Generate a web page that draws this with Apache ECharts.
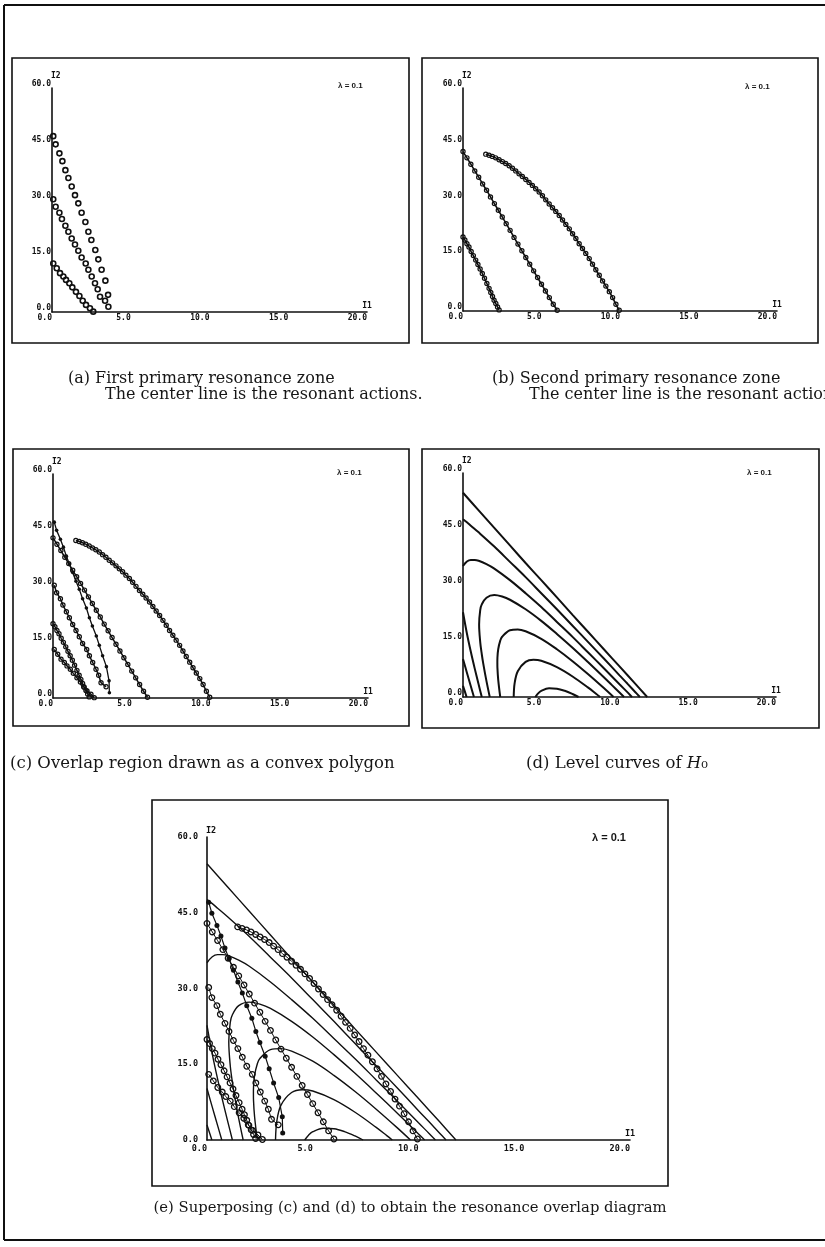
<!DOCTYPE html>
<html>
<head>
<meta charset="utf-8">
<script src="https://cdn.jsdelivr.net/npm/echarts@6.0.0/dist/echarts.min.js"></script>
<style>
  html, body { margin: 0; padding: 0; background: #fff; }
  #chart { width: 825px; height: 1247px; }
</style>
</head>
<body>
<div id="chart"></div>
<script>
// tick labels and axis names
var xTickLabels = ['0.0', '5.0', '10.0', '15.0', '20.0'];
var yTickLabels = ['0.0', '15.0', '30.0', '45.0', '60.0'];
var xName = 'I1';
var yName = 'I2';
var lambdaText = 'λ = 0.1';

// (a) first primary resonance zone, [I1, I2]
var zoneAUpper = [[0.08,47.1],[0.23,44.9],[0.47,42.5],[0.66,40.4],[0.85,38.0],[1.04,35.9],[1.25,33.6],[1.46,31.3],[1.67,29.1],[1.88,26.6],[2.12,24.1],[2.31,21.5],[2.50,19.3],[2.75,16.6],[2.94,14.1],[3.15,11.3],[3.39,8.4],[3.56,4.6],[3.58,1.4]];
var zoneACenter = [[0.08,30.2],[0.23,28.2],[0.47,26.6],[0.63,24.9],[0.85,23.1],[1.04,21.5],[1.25,19.7],[1.46,18.1],[1.67,16.4],[1.88,14.6],[2.14,13.0],[2.31,11.3],[2.52,9.5],[2.73,7.7],[2.90,6.1],[3.05,4.1],[3.37,3.0]];
var zoneALower = [[0.08,13.0],[0.30,11.7],[0.51,10.4],[0.72,9.5],[0.89,8.6],[1.10,7.7],[1.29,6.6],[1.52,5.4],[1.74,4.3],[1.95,3.0],[2.16,1.9],[2.41,1.0],[2.62,0.1]];

// (b) second primary resonance zone
var zoneBLower = [[0,19.9],[0.12,19.1],[0.25,18.1],[0.38,17.2],[0.52,16.0],[0.66,14.9],[0.81,13.7],[0.95,12.5],[1.09,11.3],[1.23,10.1],[1.37,8.8],[1.52,7.4],[1.66,6.1],[1.77,5.0],[1.88,3.9],[1.98,2.9],[2.09,2.0],[2.2,1.1],[2.3,0.3]];
var zoneBCenter = [[0,42.9],[0.25,41.2],[0.5,39.5],[0.75,37.7],[1.0,36.0],[1.25,34.2],[1.5,32.5],[1.75,30.7],[2.0,28.9],[2.25,27.1],[2.5,25.3],[2.75,23.5],[3.0,21.7],[3.25,19.8],[3.5,18.0],[3.75,16.2],[4.0,14.4],[4.25,12.6],[4.5,10.8],[4.75,9.0],[5.0,7.2],[5.25,5.4],[5.5,3.6],[5.75,1.8],[6.0,0.2]];
var zoneBUpper = [[1.45,42.2],[1.66,41.9],[1.87,41.6],[2.08,41.2],[2.30,40.7],[2.51,40.2],[2.72,39.7],[2.94,39.1],[3.15,38.4],[3.36,37.7],[3.57,36.9],[3.78,36.2],[4.0,35.4],[4.21,34.6],[4.42,33.8],[4.63,32.9],[4.85,32.0],[5.06,31.0],[5.27,29.9],[5.49,28.8],[5.70,27.8],[5.91,26.8],[6.13,25.7],[6.34,24.5],[6.55,23.3],[6.77,22.1],[6.98,20.8],[7.19,19.5],[7.40,18.1],[7.61,16.8],[7.82,15.5],[8.04,14.1],[8.25,12.6],[8.46,11.1],[8.68,9.6],[8.89,8.1],[9.10,6.7],[9.32,5.2],[9.53,3.6],[9.74,1.8],[9.95,0.2]];

// (d) level curves of H0
var h0Level1 = [[0,54.7],[1,50.0],[2,45.3],[3,40.6],[4,35.9],[5,31.3],[6,26.7],[7,22.0],[8,17.4],[9,12.8],[10,8.2],[11,3.6],[11.77,0]];
var h0Level1Low = [[0,3.0],[0.1,1.7],[0.23,0]];
var h0Level2 = [[0,47.6],[0.25,46.8],[0.5,45.9],[1,44.1],[2,40.3],[3,36.2],[4,32.1],[5,27.8],[6,23.5],[7,19.1],[8,14.7],[9,10.3],[10,5.8],[10.5,3.6],[11,1.35],[11.3,0]];
var h0Level2Low = [[0,10.2],[0.25,6.5],[0.5,2.9],[0.7,0]];
var h0Level3 = [[0,35.1],[0.25,36.3],[0.5,36.7],[0.75,36.7],[1,36.5],[1.5,35.6],[2,34.4],[3,31.3],[4,27.8],[5,24.1],[6,20.1],[7,16.1],[8,11.9],[9,7.7],[10,3.4],[10.5,1.3],[10.8,0]];
var h0Level3Low = [[0,22.7],[0.25,17.0],[0.5,12.1],[0.75,7.6],[1,3.35],[1.2,0]];
var h0Level4 = [[1.71,0],[1.5,4.25],[1.3,8.8],[1.2,11.45],[1.1,14.7],[1.03,19.4],[1.1,23.3],[1.2,24.8],[1.5,26.6],[2,27.3],[2.5,26.9],[3,26.05],[4,23.5],[5,20.4],[6,16.9],[7,13.2],[8,9.3],[9,5.3],[9.5,3.25],[10,1.2],[10.29,0]];
var h0Level5 = [[2.38,0],[2.25,4.6],[2.2,7.8],[2.195,9.2],[2.2,10.5],[2.25,12.8],[2.38,15.1],[2.5,16.15],[3,17.9],[3.5,18.1],[4,17.6],[5,15.6],[6,12.8],[7,9.6],[8,6.1],[9,2.4],[9.62,0]];
var h0Level6 = [[3.24,0],[3.3,3.7],[3.5,6.9],[4,9.4],[4.5,9.96],[5,9.7],[6,8.0],[7,5.5],[8,2.5],[8.5,0.87],[8.76,0]];
var h0Level7 = [[4.62,0],[4.8,0.96],[5,1.64],[5.5,2.34],[6,2.24],[6.5,1.67],[7,0.8],[7.38,0]];

var levelCurves = [h0Level1, h0Level1Low, h0Level2, h0Level2Low, h0Level3, h0Level3Low, h0Level4, h0Level5, h0Level6, h0Level7];

var chart = echarts.init(document.getElementById('chart'));
var ink = '#101010';

// a, b, c, d, e
var grids = [
  { left: 52, top: 88, width: 315, height: 224 },
  { left: 463, top: 88, width: 314, height: 223 },
  { left: 53, top: 474, width: 315, height: 224 },
  { left: 463, top: 473, width: 313, height: 224 },
  { left: 207, top: 837, width: 423, height: 303 }
];
grids.forEach(function (g) { g.outerBoundsMode = 'none'; g.containLabel = false; });

var xAxes = [], yAxes = [];
grids.forEach(function (g, i) {
  var big = i === 4;
  var lab = { fontFamily: 'DejaVu Sans Mono', fontWeight: 'bold', fontSize: big ? 8.5 : 8, color: ink };
  xAxes.push({
    type: 'value', gridIndex: i, min: 0, max: 20, interval: 5,
    axisLine: { onZero: false, lineStyle: { color: ink, width: 1.6 } },
    axisTick: { show: false },
    splitLine: { show: false },
    axisLabel: Object.assign({ margin: big ? 4 : 2, align: 'right',
      formatter: function (v) { return xTickLabels[Math.round(v / 5)]; } }, lab),
    name: xName, nameLocation: 'end', nameGap: 0,
    nameTextStyle: Object.assign({ align: 'center', verticalAlign: 'bottom', padding: [0, 0, 2, 0] }, lab)
  });
  yAxes.push({
    type: 'value', gridIndex: i, min: 0, max: 60, interval: 15,
    axisLine: { onZero: false, lineStyle: { color: ink, width: 1.6 } },
    axisTick: { show: false },
    splitLine: { show: false },
    axisLabel: Object.assign({ margin: big ? 9 : 1, verticalAlign: big ? 'middle' : 'bottom',
      formatter: function (v) { return yTickLabels[Math.round(v / 15)]; } }, lab),
    name: yName, nameLocation: 'end', nameGap: 2,
    nameTextStyle: Object.assign({ align: 'left', padding: [0, 0, 0, -1] }, lab)
  });
});

function rings(data, gi, size, lineW, border) {
  return {
    type: 'line', data: data, xAxisIndex: gi, yAxisIndex: gi,
    symbol: 'circle', symbolSize: size, showSymbol: true,
    lineStyle: { color: ink, width: lineW, opacity: lineW ? 1 : 0 },
    itemStyle: { color: 'rgba(255,255,255,0)', borderColor: ink, borderWidth: border },
    silent: true, z: 3
  };
}
function dots(data, gi, size, lineW) {
  return {
    type: 'line', data: data, xAxisIndex: gi, yAxisIndex: gi,
    symbol: 'circle', symbolSize: size, showSymbol: true,
    lineStyle: { color: ink, width: lineW },
    itemStyle: { color: ink, borderWidth: 0 },
    silent: true, z: 4
  };
}
function level(data, gi, w) {
  return {
    type: 'line', data: data, xAxisIndex: gi, yAxisIndex: gi,
    showSymbol: false, smooth: 0.35,
    lineStyle: { color: ink, width: w },
    silent: true, z: 2
  };
}

var series = [];
// (a)
[zoneAUpper, zoneACenter, zoneALower].forEach(function (d) { series.push(rings(d, 0, 5, 0, 1.6)); });
// (b)
[zoneBLower, zoneBCenter, zoneBUpper].forEach(function (d) { series.push(rings(d, 1, 4.2, 1.6, 1.2)); });
// (c) overlap of (a) and (b)
series.push(dots(zoneAUpper, 2, 3.6, 1.3));
[zoneACenter, zoneALower, zoneBLower, zoneBCenter, zoneBUpper].forEach(function (d) { series.push(rings(d, 2, 4.2, 1.5, 1.2)); });
// (d) level curves
levelCurves.forEach(function (d) { series.push(level(d, 3, 2)); });
// (e) superposition
levelCurves.forEach(function (d) { series.push(level(d, 4, 1.4)); });
series.push(dots(zoneAUpper, 4, 5, 1.2));
[zoneACenter, zoneALower, zoneBLower, zoneBCenter, zoneBUpper].forEach(function (d) { series.push(rings(d, 4, 5.6, 1, 1.3)); });

function frameLine(x1, y1, x2, y2, w) {
  return { type: 'line', silent: true, shape: { x1: x1, y1: y1, x2: x2, y2: y2 }, style: { stroke: ink, lineWidth: w } };
}
function box(x, y, w, h) {
  return { type: 'rect', silent: true, shape: { x: x, y: y, width: w, height: h }, style: { fill: 'none', stroke: ink, lineWidth: 1.6 } };
}
function label(text, x, y, font, align) {
  return { type: 'text', silent: true, style: { text: text, x: x, y: y, font: font, fill: '#161616',
    align: align || 'left', textAlign: align || 'left', verticalAlign: 'middle', textVerticalAlign: 'middle' } };
}
var capFont = '16px "DejaVu Serif"';
var capFontCD = '16.5px "DejaVu Serif"';
var lamFont = 'bold 8px "Liberation Sans"';

var graphics = [
  frameLine(4, 5, 825, 5, 2),
  frameLine(4, 5, 4, 1240, 2),
  frameLine(4, 1240, 825, 1240, 2),
  box(12, 58, 397, 285),
  box(422, 58, 396, 285),
  box(13, 449, 396, 277),
  box(422, 449, 397, 279),
  box(152, 800, 516, 386),
  label(lambdaText, 338, 86, lamFont),
  label(lambdaText, 745, 87, lamFont),
  label(lambdaText, 337, 473, lamFont),
  label(lambdaText, 747, 473, lamFont),
  label(lambdaText, 592, 838, 'bold 11px "Liberation Sans"'),
  label('(a) First primary resonance zone', 68, 379, capFont),
  label('The center line is the resonant actions.', 105, 395, capFont),
  label('(b) Second primary resonance zone', 492, 379, capFont),
  label('The center line is the resonant actions.', 529, 395, capFont),
  label('(c) Overlap region drawn as a convex polygon', 10, 764, capFontCD),
  { type: 'text', silent: true, style: { text: '(d) Level curves of {h|H}₀', x: 526, y: 764, font: capFontCD, fill: '#161616',
      verticalAlign: 'middle', textVerticalAlign: 'middle',
      rich: { h: { font: 'italic 16.5px "DejaVu Serif"', fill: '#161616' } } } },
  label('(e) Superposing (c) and (d) to obtain the resonance overlap diagram', 410, 1208, '14.8px "DejaVu Serif"', 'center')
];

var option = {
  animation: false,
  backgroundColor: '#fff',
  grid: grids,
  xAxis: xAxes,
  yAxis: yAxes,
  series: series,
  graphic: graphics
};
chart.setOption(option);
</script>
</body>
</html>
